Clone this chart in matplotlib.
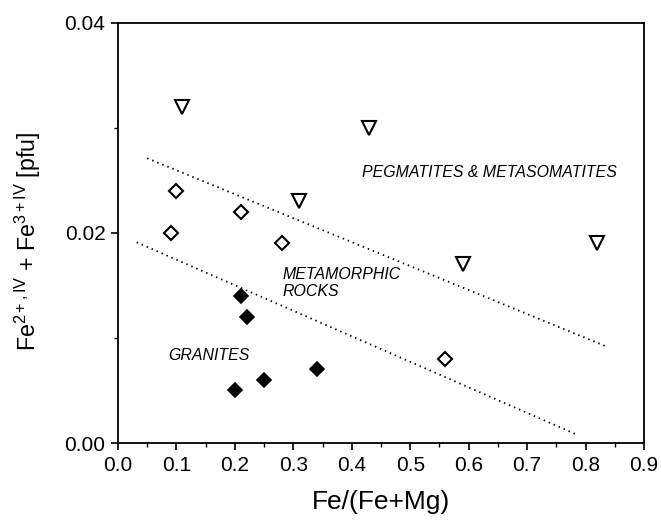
import matplotlib
matplotlib.use("Agg")
import matplotlib.pyplot as plt
from matplotlib.ticker import MultipleLocator, FormatStrFormatter

plt.rcParams['font.family'] = ['Liberation Sans', 'DejaVu Sans']
plt.rcParams['mathtext.fontset'] = 'custom'
plt.rcParams['mathtext.rm'] = 'Liberation Sans'
plt.rcParams['mathtext.it'] = 'Liberation Sans:italic'
plt.rcParams['mathtext.bf'] = 'Liberation Sans:bold'

# Data
peg_x = [0.11, 0.31, 0.43, 0.59, 0.82]
peg_y = [0.032, 0.023, 0.030, 0.017, 0.019]

meta_x = [0.10, 0.09, 0.21, 0.28, 0.56]
meta_y = [0.024, 0.020, 0.022, 0.019, 0.008]

gran_x = [0.21, 0.22, 0.20, 0.25, 0.34]
gran_y = [0.014, 0.012, 0.005, 0.006, 0.007]

upper_line_x = [0.05, 0.835]
upper_line_y = [0.0271, 0.0092]
lower_line_x = [0.032, 0.785]
lower_line_y = [0.0191, 0.0008]

fig = plt.figure(figsize=(6.61, 5.21), dpi=100)
ax = fig.add_axes([0.1785, 0.1497, 0.9743 - 0.1785, 0.9564 - 0.1497])

ax.plot(upper_line_x, upper_line_y, linestyle=(0, (0.8, 2.2)), color='black', lw=1.3)
ax.plot(lower_line_x, lower_line_y, linestyle=(0, (0.8, 2.2)), color='black', lw=1.3)

ax.plot(peg_x, peg_y, linestyle='none', marker='v', ms=9.5, mfc='white', mec='black', mew=1.5)
ax.plot(meta_x, meta_y, linestyle='none', marker='D', ms=7.0, mfc='white', mec='black', mew=1.5)
ax.plot(gran_x, gran_y, linestyle='none', marker='D', ms=7.2, mfc='black', mec='black', mew=1.2)

fs_txt = 11.4
ax.text(0.4176, 0.0257, 'PEGMATITES & METASOMATITES', style='italic', fontsize=fs_txt, va='center', ha='left')
ax.text(0.282, 0.0152, 'METAMORPHIC\nROCKS', style='italic', fontsize=fs_txt, va='center', ha='left', linespacing=1.2)
ax.text(0.0859, 0.0083, 'GRANITES', style='italic', fontsize=fs_txt, va='center', ha='left')

ax.set_xlim(0.0, 0.9)
ax.set_ylim(0.0, 0.04)
ax.xaxis.set_major_locator(MultipleLocator(0.1))
ax.xaxis.set_minor_locator(MultipleLocator(0.05))
ax.yaxis.set_major_locator(MultipleLocator(0.02))
ax.yaxis.set_minor_locator(MultipleLocator(0.01))
ax.xaxis.set_major_formatter(FormatStrFormatter('%.1f'))
ax.yaxis.set_major_formatter(FormatStrFormatter('%.2f'))
ax.tick_params(axis='both', which='major', direction='out', length=5, width=1.2, labelsize=15, pad=4)
ax.tick_params(axis='both', which='minor', direction='out', length=3, width=1.0)
for s in ax.spines.values():
    s.set_linewidth(1.3)

ax.set_xlabel('Fe/(Fe+Mg)', fontsize=19, labelpad=11)
ax.set_ylabel(r'Fe$^{\mathrm{2+,IV}}$ + Fe$^{\mathrm{3+IV}}$ [pfu]', fontsize=16.7)
ax.yaxis.set_label_coords(-0.143, 0.48)

fig.savefig('out.png', dpi=100)
